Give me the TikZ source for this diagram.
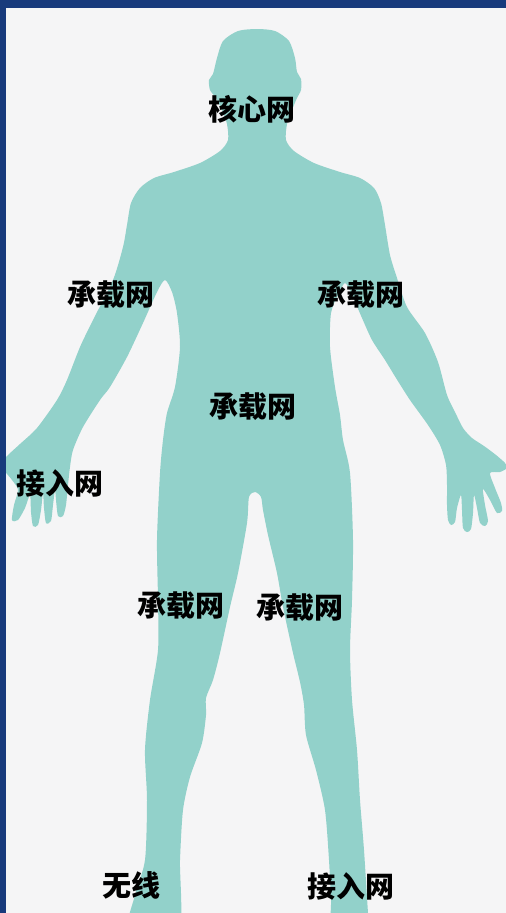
\documentclass[tikz,border=0pt]{standalone}
\usepackage{fontspec}
\newfontfamily\cjk{Noto Sans CJK SC}
\definecolor{frame}{RGB}{24,58,124}
\definecolor{paper}{RGB}{245,245,246}
\definecolor{body}{RGB}{146,209,202}
\tikzset{
  part/.style={font=\cjk\bfseries\fontsize{29}{30}\selectfont, text=black, inner sep=0pt},
}
\begin{document}
\begin{tikzpicture}[x=1pt,y=-1pt]
\useasboundingbox (0,0) rectangle (506,913);
\fill[paper] (0,0) rectangle (506,913);
\begin{scope}
\clip (0,0) rectangle (506,913);
% human silhouette
\fill[body] plot[smooth cycle, tension=0.45] coordinates {
  % head, right side
  (257,29) (275,31) (289,41) (295,58) (297,72) (301,79) (301,90) (297,98)
  (292,110) (287,124) (286,140) (294,151) (314,163) (340,172) (360,178)
  (374,188) (381,203) (385,225) (390,255) (397,278) (407,307) (425,333)
  (438,362) (447,395) (455,412) (463,428) (472,438) (484,446) (496,455)
  (505,463) (507,468) (500,472) (490,473)
  % right hand fingers
  (495,488) (501,503) (502,511) (497,513) (490,500) (483,489)
  (485,505) (488,521) (485,526) (480,523) (477,508) (474,495)
  (473,513) (471,529) (467,532) (463,528) (462,510) (461,495)
  (457,508) (455,522) (451,525) (448,520) (447,505) (447,485)
  % right inner arm
  (446,465) (440,445) (428,425) (410,400) (396,378) (385,360) (372,340)
  (362,318) (352,295) (345,283) (338,295) (331,313)
  % right torso and leg
  (330,347) (335,387) (340,415) (343,440) (350,473) (353,540) (352,600)
  (350,650) (352,700) (357,750) (360,800) (364,850) (368,913) (370,935)
  (333,935) (331,900) (329,860) (325,810) (316,770) (306,735) (304,705)
  (300,682) (293,653) (283,607) (277,573) (268,535) (263,510) (261,497)
  (255,492) (249,497)
  % left leg
  (247,523) (238,573) (230,607) (220,653) (213,680) (206,698) (206,715)
  (202,743) (190,777) (183,810) (180,860) (178,935) (128,935) (135,895)
  (145,860) (147,800) (145,750) (150,700) (158,650) (158,600) (157,540)
  (160,473) (163,440) (167,413) (175,387) (180,347) (177,313) (172,292)
  (165,280)
  % left inner arm
  (157,292) (143,323) (127,357) (110,387) (100,400) (83,427) (73,450)
  (70,467)
  % left hand fingers
  (68,485) (66,505) (63,516) (58,516) (56,500) (55,490)
  (53,505) (51,521) (46,523) (44,508) (43,493)
  (41,510) (38,525) (33,526) (31,512) (30,495)
  (25,508) (18,520) (12,520) (14,505) (18,490)
  (12,480) (4,470) (2,462) (8,455)
  % left outer arm and shoulder
  (20,444) (37,428) (57,400) (67,380) (80,347) (93,320) (113,280)
  (123,247) (127,225) (131,203) (140,188) (154,178) (174,172) (200,163)
  (220,151) (228,140) (227,124) (222,110) (216,98) (210,90) (209,80)
  (213,74) (217,58) (223,41) (238,31)
};
\end{scope}
% frame along the top and left edges
\fill[frame] (0,0) rectangle (506,8);
\fill[frame] (0,0) rectangle (6,913);
% labels
\node[part] (core)   at (252,109) {核心网};
\node[part] (bearL)  at (111,295) {承载网};
\node[part] (bearR)  at (361,295) {承载网};
\node[part] (bearM)  at (253,407) {承载网};
\node[part] (accL)   at (60,483)  {接入网};
\node[part] (bearLL) at (181,606) {承载网};
\node[part] (bearLR) at (300,608) {承载网};
\node[part] (radio)  at (131,885) {无线};
\node[part] (accR)   at (351,886) {接入网};
\end{tikzpicture}
\end{document}
